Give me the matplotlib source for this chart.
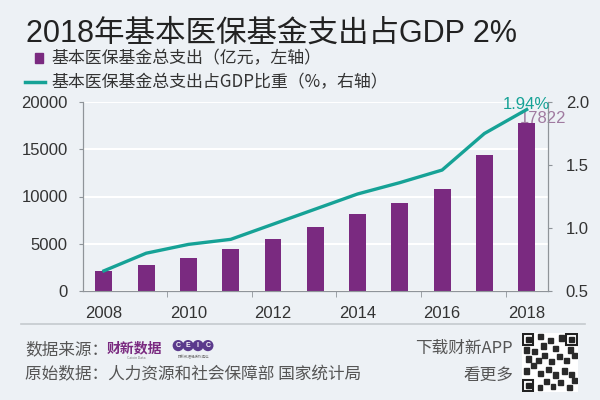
import matplotlib.pyplot as plt
from matplotlib.patches import Rectangle
from matplotlib.lines import Line2D

plt.rcParams['font.family'] = ['Noto Sans CJK SC', 'DejaVu Sans']

years = [2008, 2009, 2010, 2011, 2012, 2013, 2014, 2015, 2016, 2017, 2018]
spending = [2084, 2797, 3538, 4431, 5544, 6801, 8134, 9312, 10767, 14422, 17822]   # 亿元
gdp_share = [0.66, 0.80, 0.87, 0.91, 1.03, 1.15, 1.27, 1.36, 1.46, 1.75, 1.94]      # %

BG = '#edf1f5'
PURPLE = '#7a2a80'
TEAL = '#16a296'
GRAY = '#8f9499'
TXT = '#333333'
NUM_FONT = ['Liberation Sans', 'Noto Sans CJK SC']

fig = plt.figure(figsize=(6, 4), dpi=100, facecolor=BG)
ax = fig.add_axes([0.138, 0.2725, 0.775, 0.4725], facecolor=BG)
ax.bar(years, spending, width=0.4, color=PURPLE, zorder=3)
ax.set_xlim(2007.5, 2018.5)
ax.set_ylim(0, 20000)
ax.set_yticks([0, 5000, 10000, 15000, 20000])
ax.set_xticks(years[::2])
ax.set_xticks([y + 0.5 for y in years[1:-1:2]], minor=True)
ax.grid(axis='y', color='white', lw=1.5, zorder=0)
ax.tick_params(axis='x', which='major', length=0, pad=11, labelsize=12, labelcolor=TXT)
ax.tick_params(axis='x', which='minor', length=4, color=GRAY)
ax.tick_params(axis='y', length=3, color=GRAY, pad=8, labelsize=12, labelcolor=TXT)
for s in ['left', 'right', 'bottom']:
    ax.spines[s].set_color(GRAY)
ax.spines['top'].set_visible(False)

ax2 = ax.twinx()
ax2.plot(years, gdp_share, color=TEAL, lw=2.4, zorder=4)
ax2.set_ylim(0.5, 2.0)
ax2.set_yticks([0.5, 1.0, 1.5, 2.0])
ax2.tick_params(axis='y', length=3, color=GRAY, pad=10, labelsize=12, labelcolor=TXT)
for s in ['left', 'right', 'bottom']:
    ax2.spines[s].set_color(GRAY)
ax2.spines['top'].set_visible(False)

for a in (ax, ax2):
    for lab in a.get_xticklabels() + a.get_yticklabels():
        lab.set_family(NUM_FONT)

ax2.annotate(f'{gdp_share[-1]:.2f}%', (years[-1], gdp_share[-1]), xytext=(0, 4),
             textcoords='offset points', color=TEAL, fontsize=12, ha='center', va='center',
             family=NUM_FONT)
ax.annotate(f'{spending[-1]}', (years[-1], spending[-1]), xytext=(12, 3),
            textcoords='offset points', color='#a07aa0', fontsize=12, ha='center', va='center',
            family=NUM_FONT)

# title and legend
fig.text(0.043, 0.915, '2018年基本医保基金支出占GDP 2%', fontsize=22, color='#222222', va='center',
         family=NUM_FONT)
fig.add_artist(Rectangle((0.058, 0.843), 0.014, 0.025, transform=fig.transFigure, color=PURPLE))
fig.text(0.085, 0.855, '基本医保基金总支出（亿元，左轴）', fontsize=12.2, color=TXT, va='center')
fig.add_artist(Line2D([0.042, 0.075], [0.795, 0.795], transform=fig.transFigure, color=TEAL, lw=2.5))
fig.text(0.085, 0.795, '基本医保基金总支出占GDP比重（%，右轴）', fontsize=12.2, color=TXT, va='center')

# footer
fig.add_artist(Line2D([0.035, 0.975], [0.19, 0.19], transform=fig.transFigure, color='#c5cace', lw=1.2))
fig.text(0.042, 0.125, '数据来源：', fontsize=12, color='#555555', va='center')
fig.text(0.178, 0.128, '财新数据', fontsize=10, color=PURPLE, fontweight='bold', va='center')
fig.text(0.212, 0.106, 'Caixin Data', fontsize=2.5, color='#777777', va='center')
for i, ch in enumerate('CEIC'):
    fig.text(0.297 + i * 0.0165, 0.136, ch, fontsize=5, color='white', fontweight='bold',
             ha='center', va='center', family=NUM_FONT,
             bbox=dict(boxstyle='circle,pad=0.3', fc='#5b3a8c', ec='none'))
fig.text(0.322, 0.108, '财新数据经授权提供', fontsize=2.5, color='#777777', va='center', ha='center')
fig.text(0.042, 0.0625, '原始数据：人力资源和社会保障部 国家统计局', fontsize=12, color='#555555', va='center')
fig.text(0.855, 0.13, '下载财新APP', fontsize=12, color='#555555', va='center', ha='right')
fig.text(0.855, 0.0625, '看更多', fontsize=12, color='#555555', va='center', ha='right')

# QR code placeholder
qr = fig.add_axes([0.87, 0.02, 0.093, 0.148])
qr.set_xlim(0, 9)
qr.set_ylim(0, 9)
qr.axis('off')
qr.add_patch(Rectangle((0, 0), 9, 9, color='white'))
for (fx, fy) in [(0, 0), (0, 7), (7, 7)]:
    qr.add_patch(Rectangle((fx + 0.15, fy + 0.15), 1.7, 1.7, fc='none', ec='#222222', lw=1.5))
    qr.add_patch(Rectangle((fx + 0.6, fy + 0.6), 0.8, 0.8, color='#222222'))
modules = [(2.5, 0.3), (3.5, 1.2), (4.6, 0.4), (5.8, 1.0), (7.2, 0.3), (8.0, 1.4), (2.6, 2.4),
           (3.8, 3.0), (5.0, 2.2), (6.4, 2.8), (7.6, 2.3), (0.4, 2.8), (1.4, 3.6), (0.6, 4.6),
           (2.2, 4.4), (3.2, 5.2), (4.4, 4.2), (5.6, 5.0), (6.8, 4.4), (8.0, 5.2), (1.6, 5.8),
           (3.0, 6.6), (4.2, 7.4), (5.0, 6.2), (6.0, 7.8), (2.6, 8.0), (7.4, 6.0), (0.4, 6.0)]
for (bx, by) in modules:
    qr.add_patch(Rectangle((bx, by), 0.8, 0.8, color='#2a2a2a'))

fig.savefig('out.png', dpi=100, facecolor=BG)
